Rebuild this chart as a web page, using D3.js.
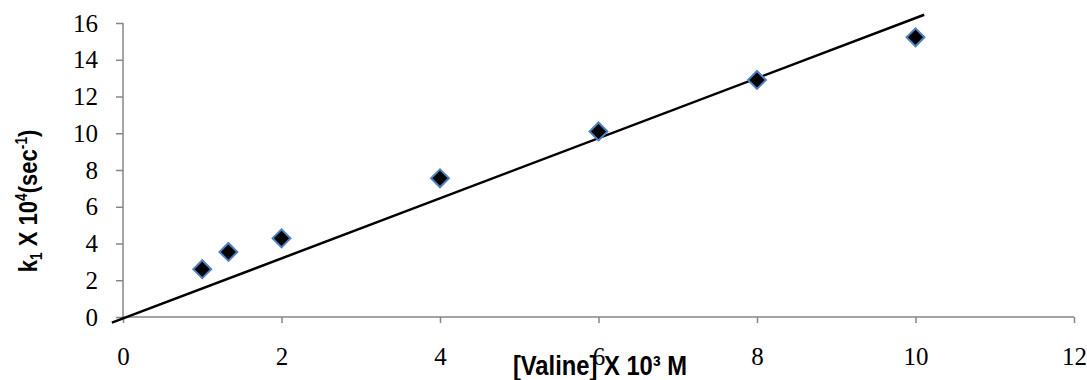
<!DOCTYPE html>
<html>
<head>
<meta charset="utf-8">
<script src="https://cdn.jsdelivr.net/npm/d3@7"></script>
<style>
  html, body { margin: 0; padding: 0; background: #fff; }
  svg { display: block; }
</style>
</head>
<body>
<svg id="chart" width="1087" height="380"></svg>
<script>
// ---- data ----
const xValues = [1, 1.33, 2, 4, 6, 8, 10];
const yValues = [2.6, 3.54, 4.28, 7.55, 10.1, 12.9, 15.22];
const trendX = [-0.14, 10.11];
const trendY = [-0.31, 16.45];
const xTicks = [0, 2, 4, 6, 8, 10, 12];
const yTicks = [0, 2, 4, 6, 8, 10, 12, 14, 16];

const svg = d3.select("#chart");
const x = d3.scaleLinear().domain([0, 12]).range([123, 1074]);
const y = d3.scaleLinear().domain([0, 16]).range([317, 23]);

const axisColor = "#868686";

// y axis
const yAxis = svg.append("g").attr("transform", `translate(${x(0)},0)`)
  .call(d3.axisLeft(y).tickValues(yTicks).tickSize(7).tickPadding(18).tickFormat(d3.format("d")));
// x axis
const xAxis = svg.append("g").attr("transform", `translate(0,${y(0)})`)
  .call(d3.axisBottom(x).tickValues(xTicks).tickSize(6).tickPadding(24).tickFormat(d3.format("d")));

[yAxis, xAxis].forEach(g => {
  g.attr("font-family", "Liberation Serif").attr("font-size", 25);
  g.select(".domain").attr("stroke", axisColor).attr("stroke-width", 1.5);
  g.selectAll(".tick line").attr("stroke", axisColor).attr("stroke-width", 1.5);
  g.selectAll(".tick text").attr("fill", "#000")
    .attr("font-family", "Liberation Serif").attr("font-size", 25);
});
yAxis.select(".domain").attr("d", `M0,${y(16)}V${y(0)}`);
xAxis.select(".domain").attr("d", `M${x(0)},0H${x(12)}`);

// trend line
svg.append("line")
  .attr("x1", x(trendX[0])).attr("y1", y(trendY[0]))
  .attr("x2", x(trendX[1])).attr("y2", y(trendY[1]))
  .attr("stroke", "#000").attr("stroke-width", 2.5);

// markers
svg.append("g").selectAll("path")
  .data(xValues.map((v, i) => [v, yValues[i]]))
  .join("path")
  .attr("d", d3.symbol().type(d3.symbolSquare).size(160))
  .attr("transform", d => `translate(${x(d[0])},${y(d[1])}) rotate(45)`)
  .attr("fill", "#000")
  .attr("stroke", "#4F81BD")
  .attr("stroke-width", 2);

// x label (slightly condensed bold sans)
svg.append("text")
  .attr("transform", "translate(600,375) scale(0.88,1)")
  .attr("text-anchor", "middle")
  .attr("font-family", "Liberation Sans")
  .attr("font-weight", "bold").attr("font-size", 27)
  .text("[Valine] X 10³ M");

// y label
const yl = svg.append("text")
  .attr("transform", "translate(37,201) rotate(-90) scale(0.85,1)")
  .attr("text-anchor", "middle")
  .attr("font-family", "Liberation Sans")
  .attr("font-weight", "bold").attr("font-size", 26);
yl.append("tspan").text("k");
yl.append("tspan").attr("dy", 5).attr("font-size", 16).text("1");
yl.append("tspan").attr("dy", -5).text(" X 10");
yl.append("tspan").attr("dy", -10).attr("font-size", 16).text("4");
yl.append("tspan").attr("dy", 10).text("(sec");
yl.append("tspan").attr("dy", -10).attr("font-size", 16).text("-1");
yl.append("tspan").attr("dy", 10).text(")");
</script>
</body>
</html>
